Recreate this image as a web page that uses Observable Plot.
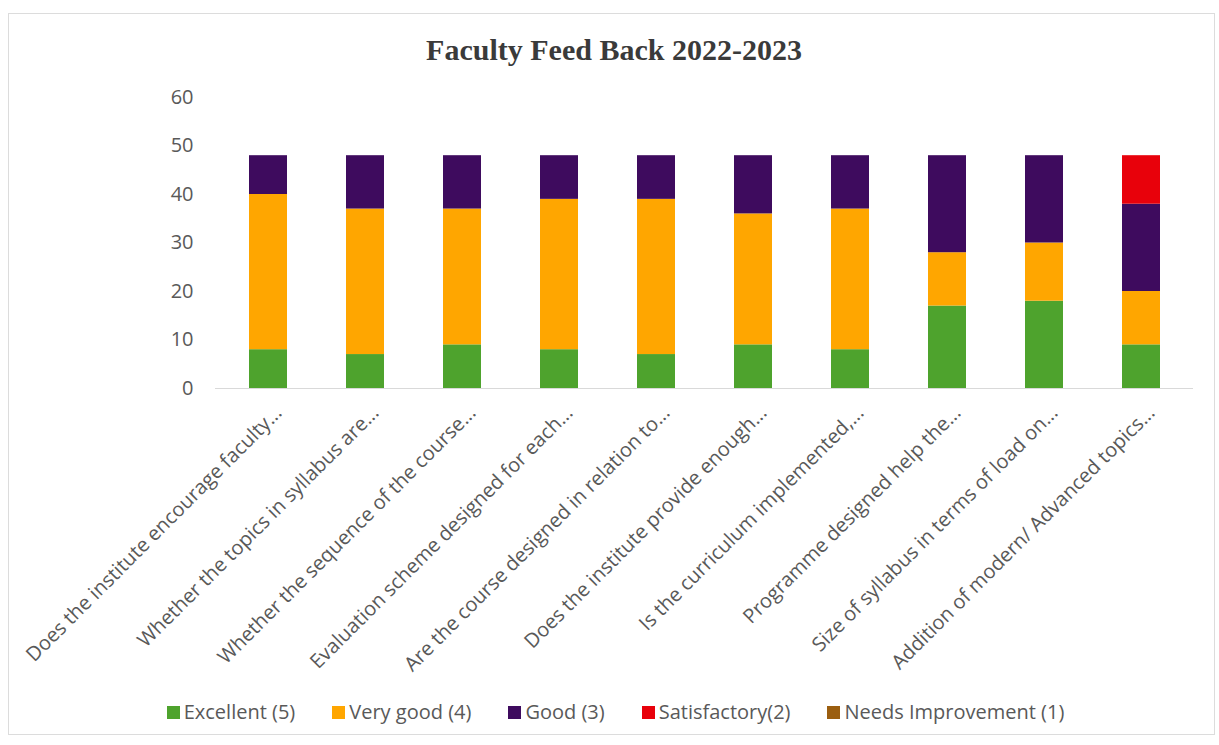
<!DOCTYPE html>
<html>
<head>
<meta charset="utf-8">
<script src="https://cdn.jsdelivr.net/npm/d3@7"></script>
<script src="https://cdn.jsdelivr.net/npm/@observablehq/plot@0.6"></script>
<style>
  html, body { margin: 0; padding: 0; background: #fff; }
  body { width: 1219px; height: 745px; position: relative; overflow: hidden; font-family: "Open Sans", sans-serif; }
  #frame { position: absolute; left: 8px; top: 13px; width: 1207px; height: 722px; border: 1px solid #dcdcdc; box-sizing: border-box; }
  #title { position: absolute; left: 0; width: 1228px; top: 32px; text-align: center; font-family: "Liberation Serif", "Times New Roman", serif; font-weight: bold; font-size: 30px; color: #3a3a3a; line-height: 36px; }
  #chart { position: absolute; left: 0; top: 80px; }
  #legend { position: absolute; left: 0; width: 1231px; top: 699px; display: flex; justify-content: center; gap: 37px; font-size: 20px; color: #595959; line-height: 26px; }
  .item { display: flex; align-items: center; gap: 4px; }
  .sw { width: 13px; height: 13px; display: inline-block; }
</style>
</head>
<body>
<div id="frame"></div>
<div id="title">Faculty Feed Back 2022-2023</div>
<div id="chart"></div>
<div id="legend"></div>
<script>
const categories = [
  "Does the institute encourage faculty...",
  "Whether the topics in syllabus are...",
  "Whether the sequence of the course...",
  "Evaluation scheme designed for each...",
  "Are the course designed in relation to...",
  "Does the institute provide enough...",
  "Is the curriculum implemented,...",
  "Programme designed help the...",
  "Size of syllabus in terms of load on...",
  "Addition of modern/ Advanced topics..."
];
const seriesNames = ["Excellent (5)", "Very good (4)", "Good (3)", "Satisfactory(2)", "Needs Improvement (1)"];
const seriesColors = ["#4ea32d", "#ffa600", "#3e0b5e", "#e8010b", "#9b5e10"];
const excellent        = [8, 7, 9, 8, 7, 9, 8, 17, 18, 9];
const veryGood         = [32, 30, 28, 31, 32, 27, 29, 11, 12, 11];
const good             = [8, 11, 11, 9, 9, 12, 11, 20, 18, 18];
const satisfactory     = [0, 0, 0, 0, 0, 0, 0, 0, 0, 10];
const needsImprovement = [0, 0, 0, 0, 0, 0, 0, 0, 0, 0];
const yTicks = [0, 10, 20, 30, 40, 50, 60];

const seriesValues = [excellent, veryGood, good, satisfactory, needsImprovement];
const rows = [];
seriesNames.forEach((s, si) => {
  categories.forEach((c, ci) => {
    rows.push({category: c, series: s, value: seriesValues[si][ci]});
  });
});

const plot = Plot.plot({
  width: 1219,
  height: 620,
  marginLeft: 215,
  marginRight: 26,
  marginTop: 17,
  marginBottom: 312,
  style: {fontFamily: "'Open Sans', sans-serif", color: "#595959", background: "transparent"},
  x: {domain: categories, paddingInner: 0.61, paddingOuter: 0.305, label: null},
  y: {domain: [0, 60], label: null},
  color: {domain: seriesNames, range: seriesColors},
  marks: [
    Plot.axisY({ticks: yTicks, tickSize: 0, tickPadding: 22, fontSize: 20, label: null}),
    Plot.axisX({tickSize: 0, tickRotate: -45, tickPadding: 21, fontSize: 20, dx: 10, label: null}),
    Plot.barY(rows, {x: "category", y: "value", fill: "series", order: seriesNames}),
    Plot.ruleY([0], {stroke: "#d9d9d9", strokeWidth: 1})
  ]
});
document.getElementById("chart").appendChild(plot);

const legend = document.getElementById("legend");
seriesNames.forEach((s, i) => {
  const item = document.createElement("div");
  item.className = "item";
  const sw = document.createElement("span");
  sw.className = "sw";
  sw.style.background = seriesColors[i];
  const t = document.createElement("span");
  t.textContent = s;
  item.appendChild(sw);
  item.appendChild(t);
  legend.appendChild(item);
});
</script>
</body>
</html>
